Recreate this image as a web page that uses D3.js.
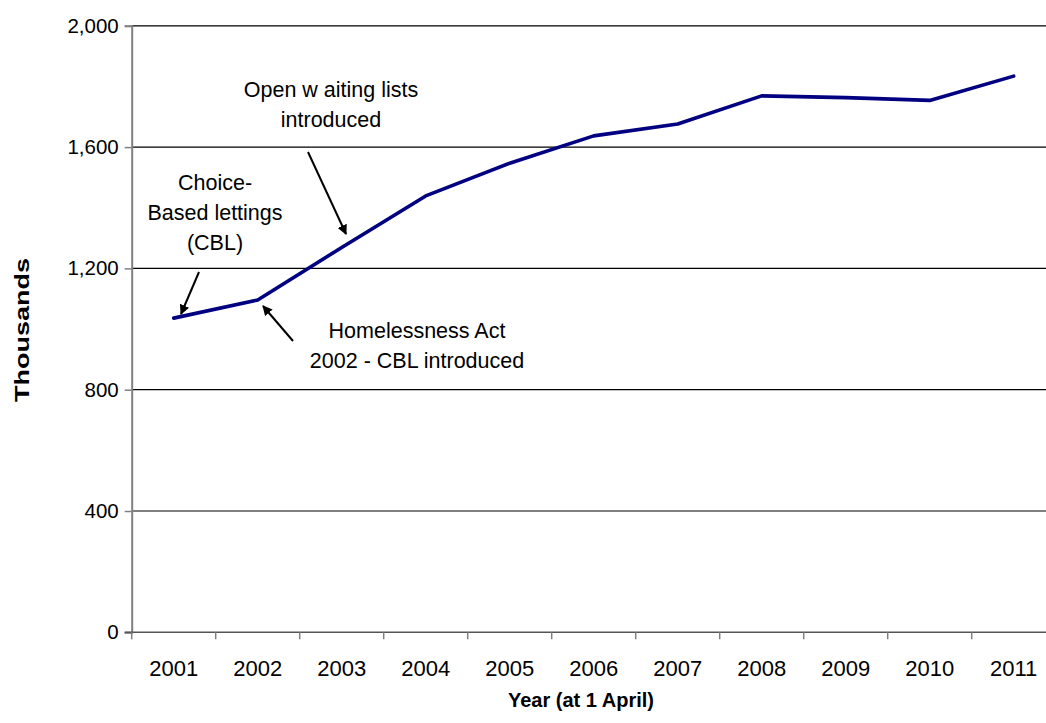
<!DOCTYPE html>
<html>
<head>
<meta charset="utf-8">
<script src="https://cdn.jsdelivr.net/npm/d3@7"></script>
<style>
  html, body { margin: 0; padding: 0; background: #fff; }
  svg { display: block; font-family: "Liberation Sans", Arial, sans-serif; }
</style>
</head>
<body>
<svg id="chart" width="1046" height="723"></svg>
<script>
// Households on housing waiting lists, England (thousands, at 1 April)
const years = ["2001", "2002", "2003", "2004", "2005", "2006", "2007", "2008", "2009", "2010", "2011"];
const households = [1036, 1096, 1269, 1439, 1547, 1637, 1676, 1769, 1763, 1754, 1834];
const yTicks = [0, 400, 800, 1200, 1600, 2000];

const svg = d3.select("#chart");
const plot = { left: 131.7, band: 84, top: 25.8, bottom: 632.3, right: 1046 };

const x = d3.scaleBand()
  .domain(years)
  .range([plot.left, plot.left + plot.band * years.length])
  .padding(0);
const y = d3.scaleLinear().domain([0, 2000]).range([plot.bottom, plot.top]);
const cx = d => x(d) + x.bandwidth() / 2;

// horizontal gridlines
svg.append("g")
  .selectAll("line")
  .data(yTicks.filter(v => v > 0))
  .join("line")
  .attr("x1", plot.left).attr("x2", plot.right)
  .attr("y1", d => y(d)).attr("y2", d => y(d))
  .attr("stroke", "#000").attr("stroke-width", 1.2);

// y axis
const yAxis = svg.append("g")
  .attr("transform", `translate(${plot.left},0)`)
  .call(d3.axisLeft(y).tickValues(yTicks).tickFormat(d3.format(",")).tickSize(7).tickPadding(6));
yAxis.select(".domain").attr("stroke", "#808080").attr("stroke-width", 2);
yAxis.selectAll(".tick line").attr("stroke", "#808080").attr("stroke-width", 1.5);
yAxis.selectAll(".tick text")
  .attr("font-size", 20.5).attr("fill", "#000")
  .attr("font-family", "Liberation Sans, Arial, sans-serif");

// x axis: ticks sit on the category boundaries
const xg = svg.append("g");
xg.append("line")
  .attr("x1", plot.left - 7).attr("x2", plot.right)
  .attr("y1", plot.bottom).attr("y2", plot.bottom)
  .attr("stroke", "#555").attr("stroke-width", 1.5);
xg.selectAll("line.tick")
  .data(years)
  .join("line")
  .attr("class", "tick")
  .attr("x1", d => x(d)).attr("x2", d => x(d))
  .attr("y1", plot.bottom).attr("y2", plot.bottom + 7)
  .attr("stroke", "#808080").attr("stroke-width", 1.5);
xg.selectAll("text")
  .data(years)
  .join("text")
  .attr("x", d => cx(d))
  .attr("y", 676)
  .attr("text-anchor", "middle")
  .attr("font-size", 22)
  .text(d => d);

// axis titles
svg.append("text")
  .attr("x", 581).attr("y", 707)
  .attr("text-anchor", "middle")
  .attr("font-size", 20).attr("font-weight", "bold")
  .text("Year (at 1 April)");
svg.append("text")
  .attr("transform", `translate(29,330) rotate(-90)`)
  .attr("text-anchor", "middle")
  .attr("font-size", 21).attr("font-weight", "bold")
  .attr("textLength", 144)
  .attr("lengthAdjust", "spacingAndGlyphs")
  .text("Thousands");

// the series line
const line = d3.line()
  .x((d, i) => cx(years[i]))
  .y(d => y(d));
svg.append("path")
  .datum(households)
  .attr("d", line)
  .attr("fill", "none")
  .attr("stroke", "#000080")
  .attr("stroke-width", 3.6)
  .attr("stroke-linejoin", "round")
  .attr("stroke-linecap", "round");

// annotation arrows and captions
svg.append("defs").append("marker")
  .attr("id", "arrowhead")
  .attr("viewBox", "0 0 10 10")
  .attr("refX", 9).attr("refY", 5)
  .attr("markerWidth", 5).attr("markerHeight", 5)
  .attr("markerUnits", "strokeWidth")
  .attr("orient", "auto")
  .append("path")
  .attr("d", "M0,0 L10,5 L0,10 z")
  .attr("fill", "#000");

const notes = [
  { lines: ["Open w aiting lists", "introduced"], tx: 331, ty: 97, arrow: [308, 152, 346, 234] },
  { lines: ["Choice-", "Based lettings", "(CBL)"], tx: 215, ty: 190, arrow: [199, 272, 181, 314] },
  { lines: ["Homelessness Act", "2002 - CBL introduced"], tx: 417, ty: 338, arrow: [293, 341, 263, 306] }
];

const ng = svg.append("g");
notes.forEach(n => {
  ng.append("line")
    .attr("x1", n.arrow[0]).attr("y1", n.arrow[1])
    .attr("x2", n.arrow[2]).attr("y2", n.arrow[3])
    .attr("stroke", "#000").attr("stroke-width", 2)
    .attr("marker-end", "url(#arrowhead)");
  const t = ng.append("text")
    .attr("text-anchor", "middle")
    .attr("font-size", 21.5);
  n.lines.forEach((s, i) => {
    t.append("tspan").attr("x", n.tx).attr("y", n.ty + i * 30).text(s);
  });
});
</script>
</body>
</html>
